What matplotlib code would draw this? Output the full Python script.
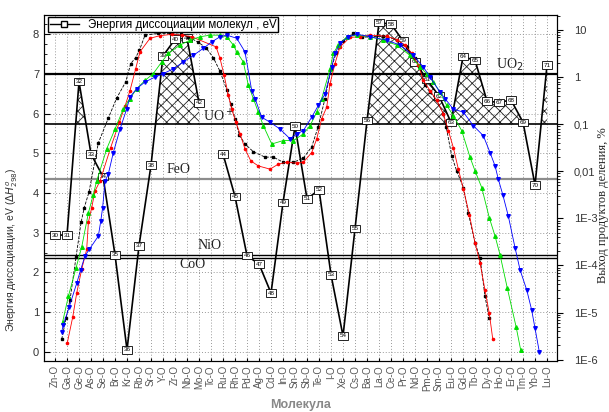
import numpy as np
import matplotlib
matplotlib.use("Agg")
import matplotlib.pyplot as plt
from matplotlib.lines import Line2D
from matplotlib.ticker import MultipleLocator, LogLocator, NullFormatter

plt.rcParams['font.family'] = ['Liberation Sans', 'DejaVu Sans']
plt.rcParams['hatch.linewidth'] = 0.6

# --- данные ---
elements = ["Zn", "Ga", "Ge", "As", "Se", "Br", "Kr", "Rb", "Sr", "Y", "Zr", "Nb", "Mo", "Tc",
            "Ru", "Rh", "Pd", "Ag", "Cd", "In", "Sn", "Sb", "Te", "I", "Xe", "Cs", "Ba", "La",
            "Ce", "Pr", "Nd", "Pm", "Sm", "Eu", "Gd", "Tb", "Dy", "Ho", "Er", "Tm", "Yb", "Lu"]
z_numbers = list(range(30, 72))
d0_ev = [2.94, 2.94, 6.8, 4.98, 4.41, 2.44, 0.05, 2.67, 4.7, 7.45, 7.87, 7.9, 6.27, np.nan,
         4.98, 3.91, 2.42, 2.21, 1.48, 3.76, 5.68, 3.85, 4.08, 1.94, 0.4, 3.1, 5.82, 8.29,
         8.25, 7.83, 7.30, 6.85, 6.44, 5.78, 7.43, 7.34, 6.31, 6.28, 6.34, 5.78, 4.2, 7.22]

# уровни энергии диссоциации оксидов, eV
uo2_level = 7.0
uop_level = 5.73
feo_level = 4.34
nio_level = 2.44
coo_level = 2.36

# выход продуктов деления, % (положение по оси молекул)
blk_x = [0.56, 0.92, 1.25, 1.75, 2.17, 2.44, 2.83, 3.61, 4.44, 5.14, 5.89, 6.31, 6.72, 7.03,
         7.5, 8.61, 9.58, 10.48, 11.11, 11.94, 12.58, 13.19, 13.75, 14.31, 14.64, 15.0, 15.36,
         15.83, 16.53, 17.5, 18.19, 19.03, 19.86, 20.69, 21.39, 21.92, 22.5, 23.0, 23.42,
         24.03, 24.86, 25.56, 26.25, 27.36, 28.47, 29.31, 30.0, 30.42, 30.83, 31.25, 31.81,
         32.36, 32.6, 33.06, 33.47, 34.03, 34.44, 35.0, 35.42, 35.83, 36.19]
blk_y = [2.7e-6, 7.6e-6, 1.85e-5, 1.5e-4, 8.2e-4, 1.7e-3, 3.6e-3, 0.040, 0.134, 0.36, 0.79,
         1.94, 2.6, 3.7, 7.8, 8.5, 8.5, 8.1, 7.2, 5.5, 4.2, 2.6, 1.33, 0.54, 0.27, 0.13, 0.059,
         0.038, 0.026, 0.020, 0.020, 0.0155, 0.0155, 0.019, 0.033, 0.087, 0.35, 1.5, 3.2,
         6.0, 8.5, 7.0, 7.2, 7.4, 6.3, 4.4, 2.5, 1.65, 0.67, 0.48, 0.32, 0.166, 0.087, 0.021,
         0.0102, 0.0045, 0.0013, 3.0e-4, 1.44e-4, 2.2e-5, 7.5e-6]

red_x = [1.03, 1.48, 1.81, 2.23, 2.64, 2.78, 3.06, 3.33, 3.75, 4.64, 5.36, 5.83, 6.25, 6.72,
         7.08, 7.92, 8.75, 9.72, 10.56, 11.39, 13.42, 13.75, 14.08, 14.44, 14.72, 15.08, 15.42,
         15.83, 16.31, 16.94, 17.92, 18.61, 19.31, 20.14, 20.69, 21.39, 21.81, 22.22, 22.64,
         22.92, 23.33, 23.75, 24.58, 25.42, 26.25, 27.64, 28.47, 29.17, 29.72, 30.28, 30.69,
         31.25, 31.81, 32.36, 32.78, 33.19, 33.61, 34.03, 34.53, 35.0, 35.42, 35.83, 36.19, 36.47]
red_y = [2.3e-6, 8.1e-6, 2.6e-5, 8.4e-5, 2.2e-4, 8.2e-4, 1.7e-3, 3.8e-3, 6.2e-3, 0.032, 0.11,
         0.24, 0.52, 1.5, 3.45, 6.7, 7.6, 8.1, 7.8, 7.2, 4.4, 2.5, 1.13, 0.42, 0.21, 0.11,
         0.062, 0.030, 0.0167, 0.013, 0.0111, 0.0142, 0.0155, 0.0149, 0.0155, 0.025, 0.049,
         0.13, 0.23, 0.73, 1.94, 4.4, 7.0, 7.2, 7.8, 7.4, 6.3, 4.8, 3.2, 1.8, 0.85, 0.52, 0.32,
         0.166, 0.073, 0.032, 0.0111, 0.0042, 0.0012, 3.0e-4, 1.12e-4, 3.0e-5, 9.6e-6, 2.8e-6]

grn_x = [0.64, 1.11, 1.75, 2.23, 2.78, 3.19, 3.47, 4.31, 5.0, 5.69, 6.25, 6.81, 7.5, 8.19,
         8.89, 9.44, 10.42, 11.25, 12.08, 12.92, 13.75, 14.31, 14.86, 15.14, 15.69, 16.11,
         16.53, 16.94, 17.36, 18.06, 19.03, 19.86, 20.69, 21.25, 21.81, 22.22, 22.92, 23.19,
         23.61, 24.31, 25.14, 26.25, 27.36, 28.47, 29.58, 30.42, 30.97, 31.53, 32.08, 32.64,
         33.19, 33.89, 34.58, 35.0, 35.56, 36.19, 36.67, 37.08, 37.69, 38.42, 38.81]
grn_y = [6.4e-6, 2.2e-5, 8.8e-5, 2.5e-4, 1.3e-3, 3.2e-3, 6.2e-3, 0.030, 0.079, 0.21, 0.35,
         0.57, 0.85, 1.19, 2.1, 3.2, 4.8, 6.1, 7.2, 7.8, 7.8, 7.2, 4.8, 3.45, 2.1, 0.67, 0.35,
         0.18, 0.093, 0.038, 0.045, 0.045, 0.062, 0.093, 0.18, 0.35, 1.5, 3.2, 4.8, 7.2, 7.8,
         7.2, 6.1, 4.8, 2.9, 1.65, 1.19, 0.79, 0.48, 0.25, 0.153, 0.073, 0.020, 0.0102, 0.0045,
         1.03e-3, 4.2e-4, 1.7e-4, 3.3e-5, 5.0e-6, 1.58e-6]

blu_x = [0.56, 0.69, 1.19, 1.81, 2.14, 2.5, 2.86, 3.61, 3.81, 3.97, 4.17, 4.44, 4.86, 5.42,
         5.97, 6.25, 6.81, 7.5, 8.33, 9.03, 9.86, 10.69, 11.53, 12.36, 13.06, 13.75, 14.31,
         15.14, 15.83, 16.39, 16.67, 17.22, 17.92, 18.75, 19.58, 20.14, 20.69, 21.39, 21.94,
         22.5, 23.06, 23.33, 23.75, 24.44, 25.14, 26.25, 27.64, 28.75, 29.86, 30.69, 31.25,
         32.08, 32.5, 33.19, 34.03, 34.86, 35.69, 36.25, 36.67, 36.94, 37.31, 37.78, 38.33,
         38.75, 39.31, 39.72, 40.0, 40.36]
blu_y = [3.9e-6, 5.4e-6, 1.33e-5, 4.2e-5, 8.1e-5, 1.6e-4, 2.2e-4, 4.2e-4, 8.7e-4, 1.7e-3,
         6.2e-3, 8.7e-3, 0.025, 0.079, 0.21, 0.38, 0.57, 0.79, 1.0, 1.19, 1.5, 2.1, 2.9, 4.1,
         5.6, 7.2, 7.8, 6.7, 3.45, 0.52, 0.35, 0.141, 0.11, 0.079, 0.049, 0.062, 0.073, 0.141,
         0.25, 0.44, 1.65, 3.2, 5.2, 7.2, 8.2, 7.2, 6.1, 4.8, 2.9, 1.65, 1.0, 0.48, 0.35, 0.21,
         0.18, 0.093, 0.057, 0.025, 0.013, 0.0068, 0.0032, 0.0011, 2.4e-4, 8.1e-5, 3.0e-5,
         1.13e-5, 4.6e-6, 1.45e-6]

right_ticks = [1e-6, 1e-5, 1e-4, 1e-3, 1e-2, 1e-1, 1, 10]
right_labels = ["1E-6", "1E-5", "1E-4", "1E-3", "0,01", "0,1", "1", "10"]

# --- график ---
x = np.arange(len(elements))
d0 = np.array(d0_ev)

fig = plt.figure(figsize=(6.09, 4.12), dpi=100)
ax = fig.add_axes([0.0722, 0.1238, 0.8424, 0.8398])

ax.grid(True, which="major", ls=(0, (1, 2)), color="#999999", lw=0.7)
ax.set_axisbelow(True)

# заштрихованные области выше уровня UO+
ax.fill_between(x, d0, uop_level, where=d0 > uop_level, interpolate=True,
                facecolor="none", edgecolor="#222222", hatch="xxx", linewidth=0)

ax.axhline(uo2_level, color="k", lw=1.6)
ax.axhline(uop_level, color="k", lw=1.2)
ax.axhline(feo_level, color="#8c8c8c", lw=1.6)
ax.axhline(nio_level, color="k", lw=1.0)
ax.axhline(coo_level, color="k", lw=1.0)

ax.plot(x, d0, color="k", lw=1.2)
for xi, yi, z in zip(x, d0, z_numbers):
    if np.isnan(yi):
        continue
    ax.text(xi, yi, str(z), fontsize=4.5, ha="center", va="center", zorder=5,
            bbox=dict(boxstyle="square,pad=0.2", fc="white", ec="k", lw=0.6))

serif = ["Liberation Serif", "DejaVu Serif"]
ax.text(36.75, 7.22, "UO$_2$", family=serif, fontsize=10, va="center", color="#222")
ax.text(12.3, 5.94, "UO$^+$", family=serif, fontsize=10, va="center", color="#222")
ax.text(9.33, 4.58, "FeO", family=serif, fontsize=10, va="center", color="#222")
ax.text(11.9, 2.67, "NiO", family=serif, fontsize=10, va="center", color="#222")
ax.text(10.4, 2.19, "CoO", family=serif, fontsize=10, va="center", color="#222")

ax.set_xlim(-0.92, 41.83)
ax.set_ylim(-0.23, 8.48)
ax.set_yticks(range(0, 9))
ax.yaxis.set_minor_locator(MultipleLocator(0.25))
ax.tick_params(axis="y", direction="in", length=4, labelsize=8, labelcolor="#333333")
ax.tick_params(axis="y", which="minor", direction="in", length=2)
ax.set_xticks(x)
ax.set_xticklabels([e + "-O" for e in elements], rotation=90, fontsize=7, color="#555555")
ax.tick_params(axis="x", direction="in", length=2, pad=3)

ax.set_ylabel(r"Энергия диссоциации, eV ($\Delta H^{o}_{298}$)", fontsize=7.5, color="#333333")
ax.yaxis.set_label_coords(-0.062, 0.32)
ax.yaxis.label.set_va("center")
ax.set_xlabel("Молекула", fontsize=9, color="#888888", fontweight="bold")
ax.xaxis.set_label_coords(0.5, -0.11)

# правая ось: выход продуктов деления
ax2 = ax.twinx()
ax2.set_yscale("log")
ax2.set_ylim(10 ** -6.03, 10 ** 1.32)
ax2.plot(blk_x, blk_y, color="k", lw=0.6, ls="--", marker="s", ms=2)
ax2.plot(red_x, red_y, color="red", lw=0.6, marker="o", ms=1.6)
ax2.plot(grn_x, grn_y, color="#00dd00", lw=0.6, marker="^", ms=2.6)
ax2.plot(blu_x, blu_y, color="blue", lw=0.6, marker="v", ms=2.6)
ax2.set_yticks(right_ticks)
ax2.set_yticklabels(right_labels)
ax2.yaxis.set_minor_locator(LogLocator(base=10, subs=range(2, 10)))
ax2.yaxis.set_minor_formatter(NullFormatter())
ax2.tick_params(axis="y", direction="out", length=4, pad=8, labelsize=8, labelcolor="#333333")
ax2.tick_params(axis="y", which="minor", direction="out", length=2)
ax2.set_ylabel("Выход продуктов деления, %", family=serif, fontsize=9, color="#222")
ax2.yaxis.set_label_coords(1.089, 0.45)
ax2.yaxis.label.set_va("center")

leg_handle = Line2D([], [], color="k", lw=1, marker="s", ms=4.5, mfc="white", mec="k")
ax2.legend([leg_handle], ["Энергия диссоциации молекул , eV"], loc="upper left",
           bbox_to_anchor=(0.006, 0.998), fontsize=8.3, fancybox=False, edgecolor="k",
           framealpha=1, handlelength=2.5, borderpad=0.15, borderaxespad=0.1,
           handleheight=0.5)

fig.savefig("out.png", dpi=100)
